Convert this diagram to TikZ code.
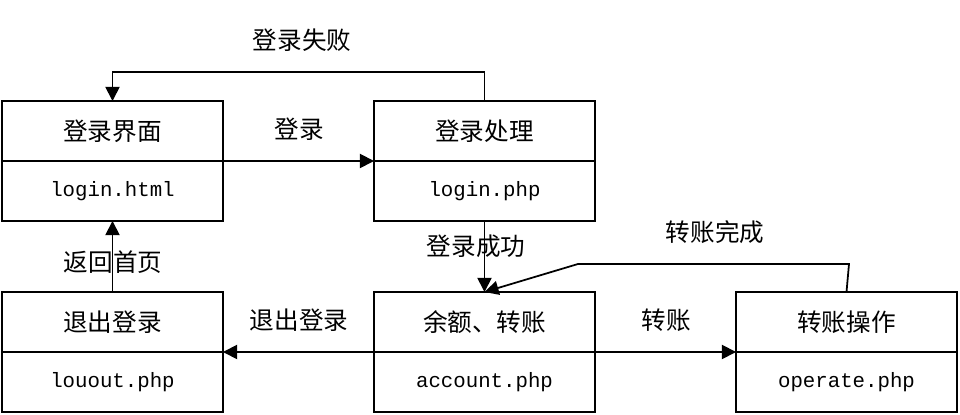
\documentclass[tikz,border=0pt]{standalone}
\usepackage{fontspec}
\newfontfamily\cjk{Noto Sans CJK SC}
\setmonofont{Liberation Mono}
\usetikzlibrary{arrows.meta,positioning}

\begin{document}
\begin{tikzpicture}[x=0.02cm, y=-0.02cm, >={Triangle[length=8pt,width=8pt]}, part/.style={draw, line width=1.2pt, outer sep=0pt, inner sep=0pt, minimum width=4.42cm, minimum height=1.2cm, font=\cjk\fontsize{14}{16}\selectfont}, file/.style={part, font=\ttfamily\fontsize{11.8}{14}\selectfont}, flow/.style={->, line width=1pt}, tag/.style={font=\cjk\fontsize{14}{16}\selectfont}]
\useasboundingbox (0,0) rectangle (960,415);
% pages, title above file name
\node[part] (loginui) at (112.5,131) {登录界面};
\node[file, below=0pt of loginui] (loginuifile) {login.html};
\node[part] (loginproc) at (484.5,131) {登录处理};
\node[file, below=0pt of loginproc] (loginprocfile) {login.php};
\node[part] (logout) at (112.5,322) {退出登录};
\node[file, below=0pt of logout] (logoutfile) {louout.php};
\node[part] (account) at (484.5,322) {余额、转账};
\node[file, below=0pt of account] (accountfile) {account.php};
\node[part] (operate) at (846.5,322) {转账操作};
\node[file, below=0pt of operate] (operatefile) {operate.php};
% bends
\coordinate (failbend) at (112.5,72);
\coordinate (donebend) at (849,264);
\coordinate (donekink) at (578,264);
% flows
\draw[flow] (loginui.south east) -- (loginproc.south west);
\draw[flow] (loginproc.north) |- (failbend) -- (loginui.north);
\draw[flow] (loginprocfile.south) -- (account.north);
\draw[flow] (operate.north) -- (donebend) -- (donekink) -- (account.north);
\draw[flow] (account.south east) -- (operate.south west);
\draw[flow] (account.south west) -- (logout.south east);
\draw[flow] (logout.north) -- (loginuifile.south);
% labels
\node[tag] (t1) at (299,129) {登录};
\node[tag] (t2) at (302,40) {登录失败};
\node[tag] (t3) at (476,246) {登录成功};
\node[tag] (t4) at (715,232) {转账完成};
\node[tag] (t5) at (666,320) {转账};
\node[tag] (t6) at (299,320) {退出登录};
\node[tag] (t7) at (113,262) {返回首页};
\end{tikzpicture}
\end{document}
